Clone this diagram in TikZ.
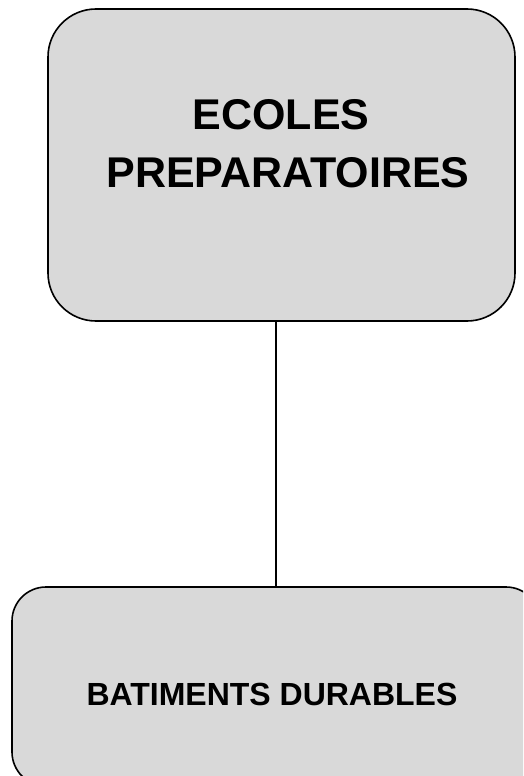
\documentclass[tikz,border=0pt]{standalone}
\usepackage{fontspec}
\setmainfont{Liberation Sans}
\definecolor{boxgray}{HTML}{D9D9D9}
\begin{document}
\begin{tikzpicture}[x=1pt,y=-1pt,
  roundbox/.style={draw=black, line width=1.6pt, fill=boxgray, rectangle, inner sep=0pt, outer sep=0pt},
  bigtxt/.style={anchor=base, inner sep=0pt, font=\fontsize{43}{48}\selectfont\bfseries},
  smalltxt/.style={anchor=base, inner sep=0pt, font=\fontsize{32}{36}\selectfont\bfseries}]
\useasboundingbox (0,0) rectangle (523,776);
\clip (0,0) rectangle (523,776);
\node[roundbox, rounded corners=48pt, minimum width=467pt, minimum height=312pt] (top) at (281.5,165) {};
\node[roundbox, rounded corners=34pt, minimum width=528pt, minimum height=199pt] (bottom) at (276,686.5) {};
\draw[line width=1.6pt] (bottom.north |- top.south) -- (bottom.north);
\node[bigtxt] (t1) at (281,129.5) {ECOLES};
\node[bigtxt] (t2) at (288,187.5) {PREPARATOIRES};
\node[smalltxt] (t3) at (272,705) {BATIMENTS DURABLES};
\end{tikzpicture}
\end{document}
